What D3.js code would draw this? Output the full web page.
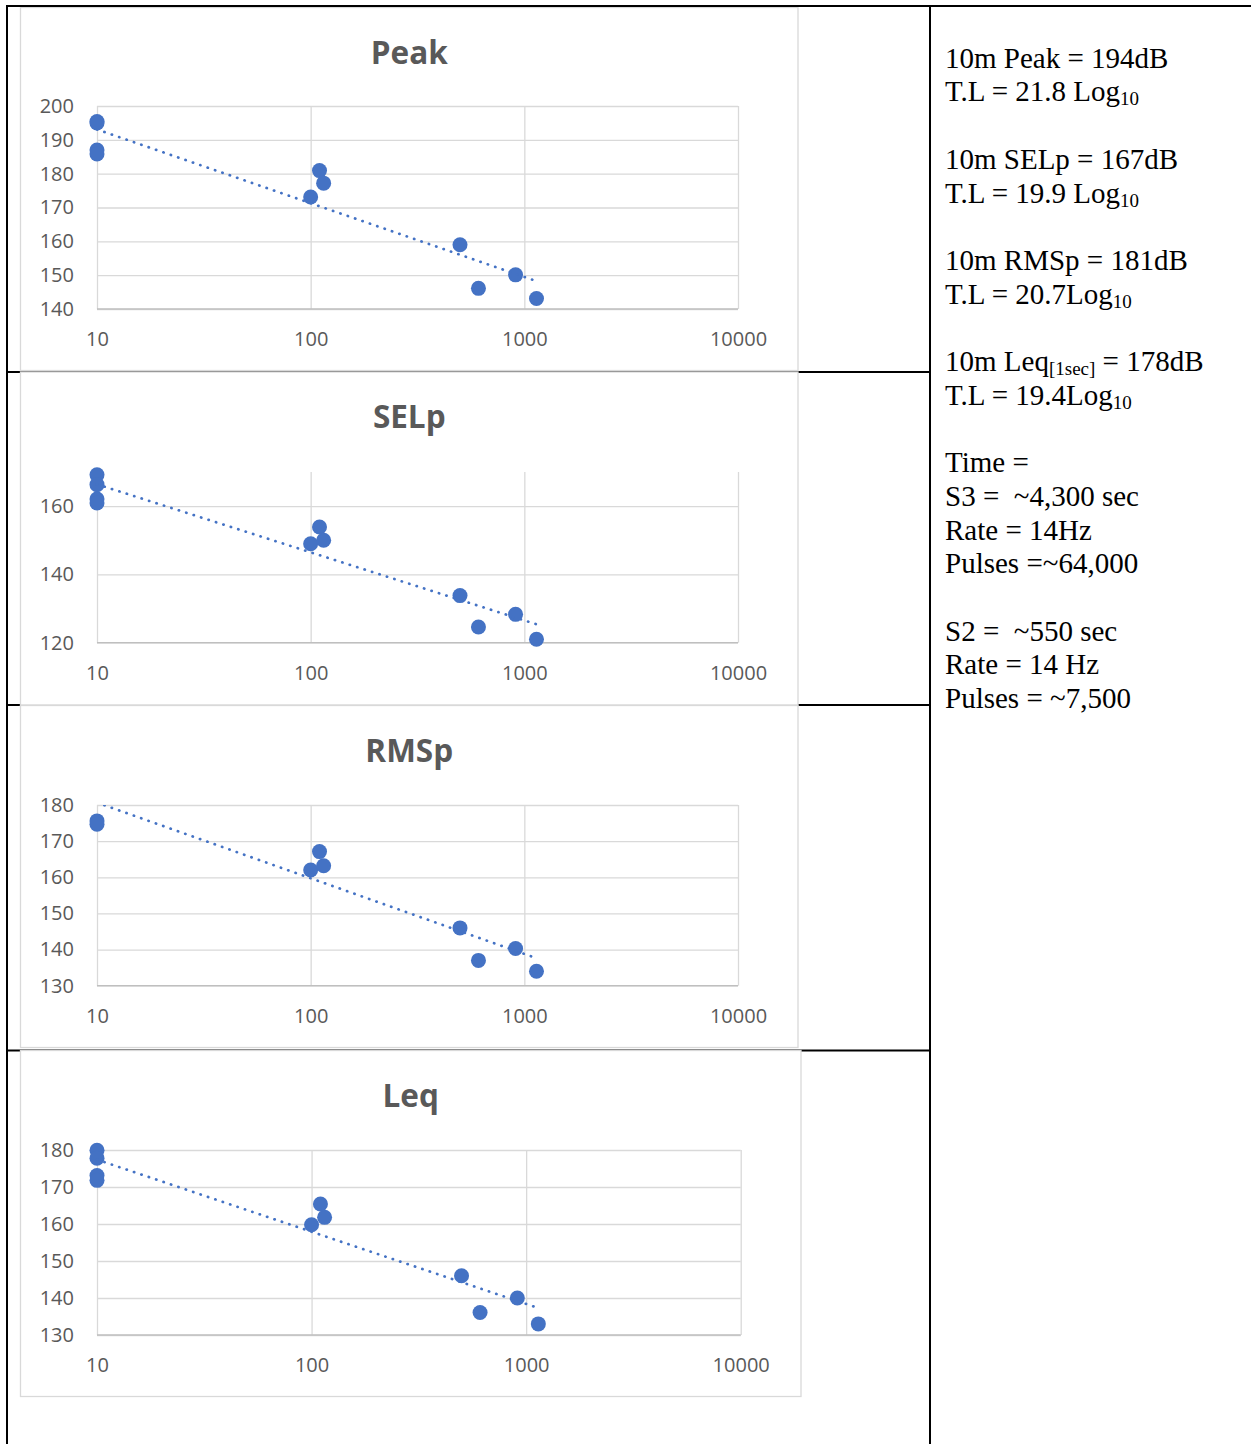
<!DOCTYPE html>
<html>
<head>
<meta charset="utf-8">
<script src="https://cdn.jsdelivr.net/npm/d3@7"></script>
<style>
  body { margin: 0; background: #fff; }
  svg { display: block; }
  .tick text { font-family: "Open Sans", sans-serif; font-size: 20px; fill: #595959; }
</style>
</head>
<body>
<svg id="page"></svg>
<script>
// distance (m) of each measurement, shared by all four panels
var distances = [10, 10, 10, 10, 100, 110, 115, 500, 610, 910, 1140];
var peakValues = [195.4, 195.0, 187.0, 185.8, 173.1, 180.9, 177.2, 159.0, 146.1, 150.1, 143.1];
var selpValues = [169.2, 166.3, 162.1, 160.9, 149.0, 153.9, 150.0, 133.8, 124.6, 128.3, 121.0];
// first two RMSp readings sit above the 180 axis limit, so they are clipped from view
var rmspValues = [184.0, 181.5, 175.6, 174.7, 162.0, 167.1, 163.2, 146.0, 137.0, 140.3, 134.0];
var leqValues = [179.9, 177.8, 173.1, 171.8, 159.8, 165.4, 161.8, 146.0, 136.1, 140.0, 133.0];

var xTicks = [10, 100, 1000, 10000];
var peakTicks = [140, 150, 160, 170, 180, 190, 200];
var selpTicks = [120, 140, 160];
var rmspTicks = [130, 140, 150, 160, 170, 180];
var leqTicks = [130, 140, 150, 160, 170, 180];

var peakDomain = [140, 200];
var selpDomain = [120, 170];
var rmspDomain = [130, 180];
var leqDomain = [130, 180];

var titles = ["Peak", "SELp", "RMSp", "Leq"];

// notes in the right-hand cell; [text, isSubscript]
var noteLines = [
  [["10m Peak = 194dB"]],
  [["T.L = 21.8 Log"], ["10", 1]],
  [],
  [["10m SELp = 167dB"]],
  [["T.L = 19.9 Log"], ["10", 1]],
  [],
  [["10m RMSp = 181dB"]],
  [["T.L = 20.7Log"], ["10", 1]],
  [],
  [["10m Leq"], ["[1sec]", 1], [" = 178dB"]],
  [["T.L = 19.4Log"], ["10", 1]],
  [],
  [["Time ="]],
  [["S3 =  ~4,300 sec"]],
  [["Rate = 14Hz"]],
  [["Pulses =~64,000"]],
  [],
  [["S2 =  ~550 sec"]],
  [["Rate = 14 Hz"]],
  [["Pulses = ~7,500"]]
];

var blue = "#4472c4";

var svg = d3.select("#page")
  .attr("width", 1251)
  .attr("height", 1444);

svg.append("rect").attr("width", 1251).attr("height", 1444).attr("fill", "#fff");

// table rules (charts are pasted over the left cells)
var rules = svg.append("g").attr("stroke", "#000").attr("stroke-width", 2);
rules.append("line").attr("x1", 7).attr("x2", 7).attr("y1", 5).attr("y2", 1444);
rules.append("line").attr("x1", 930).attr("x2", 930).attr("y1", 5).attr("y2", 1444);
[372, 705, 1050.5].forEach(function(y) {
  rules.append("line").attr("x1", 7).attr("x2", 930).attr("y1", y).attr("y2", y);
});

// panel layout: frame box and plot area
var panels = [
  { values: peakValues, ticks: peakTicks, domain: peakDomain,
    box: [20.5, 7.5, 798, 370.5], plot: [97, 738, 106, 309] },
  { values: selpValues, ticks: selpTicks, domain: selpDomain,
    box: [20.5, 372, 798, 705], plot: [97, 738, 472, 642.7] },
  { values: rmspValues, ticks: rmspTicks, domain: rmspDomain,
    box: [20.5, 705.5, 798, 1047.5], plot: [97, 738, 805, 985.7] },
  { values: leqValues, ticks: leqTicks, domain: leqDomain,
    box: [20.5, 1050.5, 801, 1396.5], plot: [97, 740.7, 1150, 1335] }
];

panels.forEach(function(p, i) {
  var g = svg.append("g");
  var b = p.box;
  g.append("rect")
    .attr("x", b[0]).attr("y", b[1])
    .attr("width", b[2] - b[0]).attr("height", b[3] - b[1])
    .attr("fill", "#fff")
    .attr("stroke", "#d9d9d9")
    .attr("stroke-width", 1.3);

  g.append("text")
    .attr("x", (b[0] + b[2]) / 2)
    .attr("y", b[1] + 56)
    .attr("text-anchor", "middle")
    .attr("font-family", "'Open Sans', sans-serif")
    .attr("font-weight", "bold")
    .attr("font-size", 31.5)
    .attr("fill", "#595959")
    .text(titles[i]);

  var x = d3.scaleLog().domain([10, 10000]).range([p.plot[0], p.plot[1]]);
  var y = d3.scaleLinear().domain(p.domain).range([p.plot[3], p.plot[2]]);
  var w = p.plot[1] - p.plot[0];
  var h = p.plot[3] - p.plot[2];

  var clipId = "clip" + i;
  g.append("clipPath").attr("id", clipId)
    .append("rect")
    .attr("x", p.plot[0] - 10).attr("y", p.plot[2])
    .attr("width", w + 20).attr("height", h + 10);

  // gridlines
  var hg = g.append("g")
    .attr("transform", "translate(" + p.plot[0] + ",0)")
    .call(d3.axisLeft(y).tickValues(p.ticks).tickSize(-w).tickFormat(""));
  var vg = g.append("g")
    .attr("transform", "translate(0," + p.plot[3] + ")")
    .call(d3.axisBottom(x).tickValues(xTicks).tickSize(h).tickFormat(""));
  vg.selectAll(".tick line").attr("y2", -h);
  [hg, vg].forEach(function(a) {
    a.select(".domain").remove();
    a.selectAll(".tick line").attr("stroke", "#d9d9d9").attr("stroke-width", 1.3);
  });
  g.append("line")
    .attr("x1", p.plot[0]).attr("x2", p.plot[1])
    .attr("y1", p.plot[3]).attr("y2", p.plot[3])
    .attr("stroke", "#bfbfbf").attr("stroke-width", 1.3);

  // tick labels
  var yl = g.append("g")
    .attr("transform", "translate(" + p.plot[0] + ",0)")
    .call(d3.axisLeft(y).tickValues(p.ticks).tickSize(0).tickPadding(23));
  var xl = g.append("g")
    .attr("transform", "translate(0," + p.plot[3] + ")")
    .call(d3.axisBottom(x).tickValues(xTicks).tickSize(0).tickPadding(23)
      .tickFormat(d3.format("d")));
  yl.select(".domain").remove();
  xl.select(".domain").remove();

  // points (values beyond the axis limits are not shown)
  var pts = p.values.map(function(v, k) { return { d: distances[k], v: v }; })
    .filter(function(o) { return o.v >= p.domain[0] && o.v <= p.domain[1]; });
  g.append("g").selectAll("circle")
    .data(pts).enter()
    .append("circle")
    .attr("cx", function(o) { return x(o.d); })
    .attr("cy", function(o) { return y(o.v); })
    .attr("r", 7.5)
    .attr("fill", blue);

  // logarithmic trendline (least squares on log10 distance, all readings)
  var lx = distances.map(function(d) { return Math.log10(d); });
  var mx = d3.mean(lx), my = d3.mean(p.values);
  var sxy = d3.sum(lx, function(v, k) { return (v - mx) * (p.values[k] - my); });
  var sxx = d3.sum(lx, function(v) { return (v - mx) * (v - mx); });
  var slope = sxy / sxx, icpt = my - slope * mx;
  var ends = d3.extent(distances);
  g.append("path")
    .datum(ends)
    .attr("clip-path", "url(#" + clipId + ")")
    .attr("d", d3.line()
      .x(function(d) { return x(d); })
      .y(function(d) { return y(icpt + slope * Math.log10(d)); }))
    .attr("fill", "none")
    .attr("stroke", blue)
    .attr("stroke-width", 2.7)
    .attr("stroke-linecap", "round")
    .attr("stroke-dasharray", "0.3,7.5");
});

// top rule drawn over the first chart frame
svg.append("line").attr("x1", 6).attr("x2", 1251).attr("y1", 6).attr("y2", 6)
  .attr("stroke", "#000").attr("stroke-width", 2);

// notes
var notes = svg.append("g")
  .attr("font-family", "'Liberation Serif', 'Times New Roman', serif")
  .attr("fill", "#000");
noteLines.forEach(function(line, i) {
  var base = 67.7 + i * 33.7;
  var t = notes.append("text")
    .attr("x", 945)
    .attr("y", base)
    .attr("font-size", 29)
    .style("white-space", "pre");
  line.forEach(function(seg) {
    t.append("tspan")
      .attr("y", seg[1] ? base + 4 : base)
      .attr("font-size", seg[1] ? 19 : 29)
      .text(seg[0]);
  });
});
</script>
</body>
</html>
